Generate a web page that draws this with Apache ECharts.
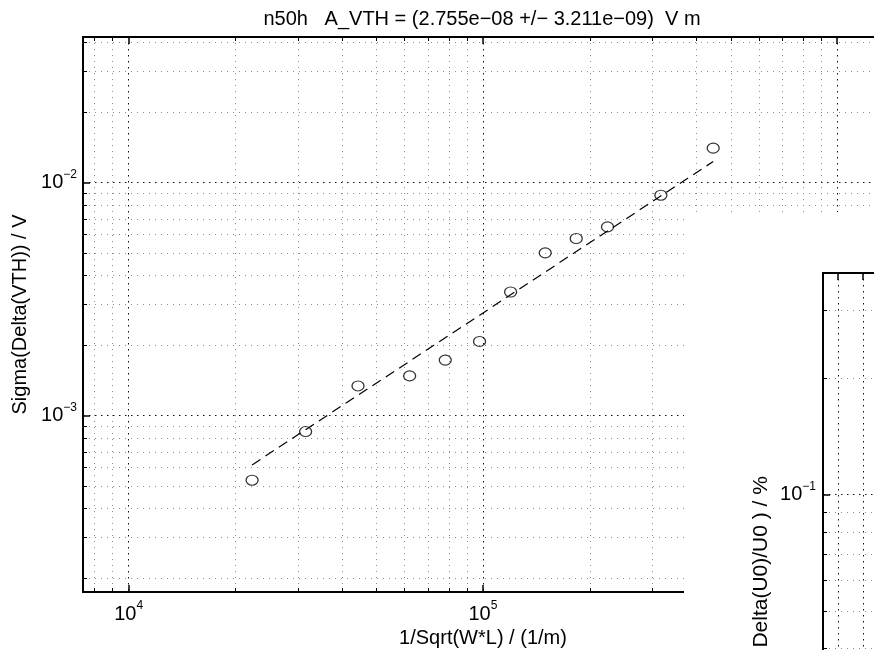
<!DOCTYPE html>
<html>
<head>
<meta charset="utf-8">
<script src="https://cdn.jsdelivr.net/npm/echarts@6/dist/echarts.min.js"></script>
<style>
  html, body { margin: 0; padding: 0; background: #fff; }
  #chart { width: 874px; height: 650px; }
</style>
</head>
<body>
<div id="chart"></div>
<script>
// Threshold-voltage mismatch of device n50h versus 1/sqrt(W*L)
const invSqrtArea = [22300, 31580, 44390, 62090, 78280, 97810, 119700, 149900, 183400, 224700, 317900, 446700];
const sigmaDeltaVth = [5.28e-4, 8.54e-4, 1.34e-3, 1.48e-3, 1.73e-3, 2.08e-3, 3.39e-3, 4.99e-3, 5.75e-3, 6.45e-3, 8.82e-3, 1.404e-2];

// Pelgrom fit: sigma(dVTH) = A_VTH / sqrt(W*L)
const deviceName = 'n50h';
const A_VTH = 2.755e-8;
const A_VTH_ERR = 3.211e-9;
const fitRange = [22300, 446700];

const xTitle = '1/Sqrt(W*L) / (1/m)';
const yTitle = 'Sigma(Delta(VTH)) / V';
const u0Title = 'Sigma( Delta(U0)/U0 ) / %';

// Axis extents
const xRange = [7430, 1.347e6];
const yRange = [1.75e-4, 4.21e-2];
const u0XRange = [0.4, 4.4];
const u0YRange = [7.76e-3, 0.375];

// Log-axis minor subdivisions
const minorSteps = [2, 3, 4, 5, 6, 7, 8, 9];
const decadeExps = [-4, -3, -2, -1, 3, 4, 5, 6];

const FONT = 'Liberation Sans, Arial, Helvetica, sans-serif';

function minorValues(range) {
  const out = [];
  decadeExps.forEach(e => {
    minorSteps.forEach(m => {
      const v = m * Math.pow(10, e);
      if (v > range[0] && v < range[1]) out.push(v);
    });
  });
  return out;
}

function matlabExp(v) {
  const e = Math.floor(Math.log10(Math.abs(v)));
  const m = v / Math.pow(10, e);
  const ee = Math.abs(e) < 10 ? '0' + Math.abs(e) : String(Math.abs(e));
  return m.toFixed(3) + 'e' + (e < 0 ? '\u2212' : '+') + ee;
}

const titleText = deviceName + '   A_VTH = (' + matlabExp(A_VTH) + ' +/\u2212 ' + matlabExp(A_VTH_ERR) + ')  V m';

function powLabel(v) {
  const e = Math.round(Math.log10(v));
  return '{b|10}{s|' + (e < 0 ? '\u2212' + (-e) : e) + '}';
}

const richPow = {
  b: { fontFamily: FONT, fontSize: 20, lineHeight: 28, color: '#000' },
  s: { fontFamily: FONT, fontSize: 12, lineHeight: 12, verticalAlign: 'top', color: '#000' }
};

const majorGrid = { show: true, lineStyle: { color: '#111', width: 1, type: [1.5, 4.5] } };
const axisLine = { show: true, lineStyle: { color: '#000', width: 2 } };
const majorTick = { show: true, inside: true, length: 7, lineStyle: { color: '#000', width: 1.5 } };

// Minor grid lines plus minor tick marks, placed through the axis scales
function minorRender(params, api) {
  const cs = params.coordSys;
  const p = api.coord([api.value(0), api.value(1)]);
  const gridStyle = { stroke: '#8c8c8c', lineWidth: 1, lineDash: [1, 5], fill: null };
  const tickStyle = { stroke: '#000', lineWidth: 1, fill: null };
  const L = 4;
  const children = [];
  if (api.value(2) === 0) {
    const x = Math.round(p[0]) + 0.5;
    const y0 = cs.y, y1 = cs.y + cs.height;
    children.push({ type: 'line', shape: { x1: x, y1: y0, x2: x, y2: y1 }, style: gridStyle });
    children.push({ type: 'line', shape: { x1: x, y1: y1, x2: x, y2: y1 - L }, style: tickStyle });
    children.push({ type: 'line', shape: { x1: x, y1: y0, x2: x, y2: y0 + L }, style: tickStyle });
  } else {
    const y = Math.round(p[1]) + 0.5;
    const x0 = cs.x, x1 = cs.x + cs.width;
    children.push({ type: 'line', shape: { x1: x0, y1: y, x2: x1, y2: y }, style: gridStyle });
    children.push({ type: 'line', shape: { x1: x0, y1: y, x2: x0 + L, y2: y }, style: tickStyle });
    children.push({ type: 'line', shape: { x1: x1, y1: y, x2: x1 - L, y2: y }, style: tickStyle });
  }
  return { type: 'group', children: children };
}

const mainMinor = minorValues(xRange).map(v => [v, yRange[0], 0])
  .concat(minorValues(yRange).map(v => [xRange[0], v, 1]));
const u0Minor = minorValues(u0YRange).map(v => [u0XRange[0], v, 1]);

const chart = echarts.init(document.getElementById('chart'), null, { renderer: 'canvas' });

chart.setOption({
  animation: false,
  backgroundColor: '#fff',
  title: {
    text: titleText,
    left: 482,
    top: 9,
    textAlign: 'center',
    padding: 0,
    textStyle: { fontFamily: FONT, fontSize: 20, fontWeight: 'normal', color: '#000' }
  },
  grid: [
    { left: 83, top: 37, width: 800, height: 555, containLabel: false, outerBoundsMode: 'none' },
    { left: 823, top: 273, width: 100, height: 650, containLabel: false, outerBoundsMode: 'none' }
  ],
  xAxis: [
    {
      gridIndex: 0, type: 'log', position: 'bottom', min: xRange[0], max: xRange[1],
      axisLine: axisLine, axisTick: majorTick, splitLine: majorGrid,
      axisLabel: {
        show: true, margin: 8, showMinLabel: false, showMaxLabel: false,
        formatter: powLabel, rich: richPow
      },
      name: xTitle, nameLocation: 'middle', nameGap: 32,
      nameTextStyle: { fontFamily: FONT, fontSize: 20, color: '#000' }
    },
    {
      gridIndex: 0, type: 'log', position: 'top', min: xRange[0], max: xRange[1],
      axisLine: axisLine, axisTick: majorTick, splitLine: { show: false }, axisLabel: { show: false }
    },
    {
      gridIndex: 1, type: 'value', position: 'bottom', min: u0XRange[0], max: u0XRange[1], z: 60,
      axisLine: axisLine, axisTick: majorTick, splitLine: majorGrid,
      axisLabel: { show: false }
    },
    {
      gridIndex: 1, type: 'value', position: 'top', min: u0XRange[0], max: u0XRange[1], z: 60,
      axisLine: axisLine, axisTick: majorTick, splitLine: { show: false }, axisLabel: { show: false }
    }
  ],
  yAxis: [
    {
      gridIndex: 0, type: 'log', position: 'left', min: yRange[0], max: yRange[1],
      axisLine: axisLine, axisTick: majorTick, splitLine: majorGrid,
      axisLabel: {
        show: true, margin: 6, showMinLabel: false, showMaxLabel: false,
        formatter: powLabel, rich: richPow
      },
      name: yTitle, nameLocation: 'middle', nameGap: 48,
      nameTextStyle: { fontFamily: FONT, fontSize: 20, color: '#000' }
    },
    {
      gridIndex: 1, type: 'log', position: 'left', min: u0YRange[0], max: u0YRange[1], z: 60,
      axisLine: axisLine, axisTick: majorTick, splitLine: majorGrid,
      axisLabel: {
        show: true, margin: 7, showMinLabel: false, showMaxLabel: false,
        formatter: powLabel, rich: richPow
      },
      name: u0Title, nameLocation: 'middle', nameGap: 51,
      nameTextStyle: { fontFamily: FONT, fontSize: 21, color: '#000' }
    }
  ],
  graphic: [
    {
      type: 'rect', z: 50, silent: true,
      shape: { x: 684, y: 212, width: 200, height: 450 },
      style: { fill: '#fff' }
    }
  ],
  series: [
    {
      type: 'custom', xAxisIndex: 0, yAxisIndex: 0, z: 1, silent: true,
      renderItem: minorRender, data: mainMinor
    },
    {
      type: 'line', xAxisIndex: 0, yAxisIndex: 0, z: 2, silent: true,
      showSymbol: false, symbol: 'none',
      lineStyle: { color: '#000', width: 1.2, type: [10, 6] },
      data: fitRange.map(x => [x, A_VTH * x])
    },
    {
      type: 'scatter', xAxisIndex: 0, yAxisIndex: 0, z: 3, silent: true,
      symbol: 'circle', symbolSize: [12, 10],
      itemStyle: { color: 'rgba(0,0,0,0)', borderColor: '#000', borderWidth: 1.2 },
      data: invSqrtArea.map((x, i) => [x, sigmaDeltaVth[i]])
    },
    {
      type: 'custom', xAxisIndex: 2, yAxisIndex: 1, z: 61, silent: true,
      renderItem: minorRender, data: u0Minor
    }
  ]
});
</script>
</body>
</html>
